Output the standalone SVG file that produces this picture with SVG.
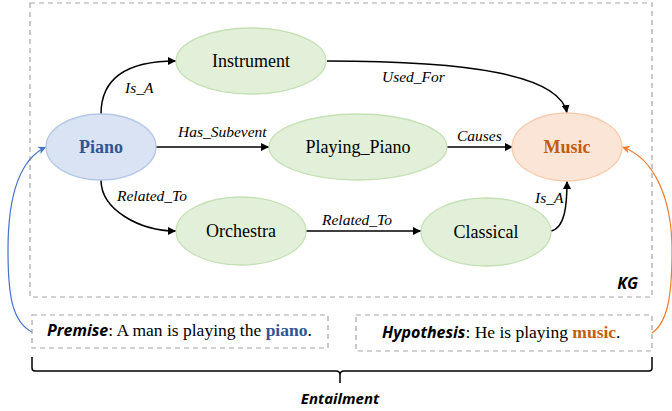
<svg xmlns="http://www.w3.org/2000/svg" width="672" height="411" viewBox="0 0 672 411">
<defs>
<marker id="ab" viewBox="0 0 10 10" refX="10" refY="5" markerWidth="8" markerHeight="8" markerUnits="userSpaceOnUse" orient="auto"><path d="M0,0 L10,5 L0,10 Z" fill="#000"/></marker>
<marker id="abl" viewBox="0 0 10 10" refX="10" refY="5" markerWidth="8" markerHeight="8" markerUnits="userSpaceOnUse" orient="auto"><path d="M0,0 L10,5 L0,10 L3,5 Z" fill="#4472c4"/></marker>
<marker id="aor" viewBox="0 0 10 10" refX="10" refY="5" markerWidth="8" markerHeight="8" markerUnits="userSpaceOnUse" orient="auto"><path d="M0,0 L10,5 L0,10 L3,5 Z" fill="#ed7d31"/></marker>
</defs>
<style>
.dash{fill:none;stroke:#a6a6a6;stroke-width:1.2;stroke-dasharray:5,4}
.green{fill:#e2f0d9;stroke:#c5e0b4;stroke-width:1.3}
.blue{fill:#dae3f3;stroke:#b4c7e7;stroke-width:1.3}
.orange{fill:#fbe5d6;stroke:#f8cbad;stroke-width:1.3}
.nt{font-family:"Liberation Serif","Times New Roman",serif;font-size:18px;fill:#000;text-anchor:middle}
.el{font-family:"Liberation Serif","Times New Roman",serif;font-size:15.5px;font-style:italic;fill:#000}
.edge{fill:none;stroke:#000;stroke-width:1.5;marker-end:url(#ab)}
.sent{font-family:"Liberation Serif","Times New Roman",serif;font-size:17.5px;fill:#000}
.sb{font-family:"Open Sans","Liberation Sans",sans-serif;font-weight:bold;font-style:italic}
</style>
<rect class="dash" x="30" y="3" width="622" height="294"/>
<text class="sb" x="638" y="289" font-size="16" text-anchor="end">KG</text>
<g id="connectors">
<path class="edge" d="M101,114 C101,80 125,61 176,61"/>
<path class="edge" d="M156,147 L269,147"/>
<path class="edge" d="M327,61 C470,61 560,75 567,113"/>
<path class="edge" d="M447,147 L513,147"/>
<path class="edge" d="M101,180 C101,210 140,231 176,231"/>
<path class="edge" d="M306,231 L421,231"/>
<path class="edge" d="M551,231 C565,228 567,205 567,181"/>
<text class="el" x="125" y="93">Is_A</text>
<text class="el" x="178" y="137">Has_Subevent</text>
<text class="el" x="382" y="82">Used_For</text>
<text class="el" x="457" y="141">Causes</text>
<text class="el" x="117" y="201">Related_To</text>
<text class="el" x="322" y="225">Related_To</text>
<text class="el" x="535" y="203">Is_A</text>
<path d="M32,332 C12,322 8,295 8,250 C8,200 18,160 46,147" fill="none" stroke="#4472c4" stroke-width="1.2" marker-end="url(#abl)"/>
<path d="M652,333 C668,322 672,295 672,250 C672,200 655,158 622,147" fill="none" stroke="#ed7d31" stroke-width="1.2" marker-end="url(#aor)"/>
</g>
<g id="piano"><ellipse class="blue" cx="101" cy="147" rx="55" ry="33"/><text class="nt" x="101" y="153" font-weight="bold" style="fill:#2f5597">Piano</text></g>
<g id="instrument"><ellipse class="green" cx="251" cy="61" rx="75" ry="33"/><text class="nt" x="251" y="67">Instrument</text></g>
<g id="playing_piano"><ellipse class="green" cx="358" cy="147" rx="89" ry="33"/><text class="nt" x="358" y="153">Playing_Piano</text></g>
<g id="music"><ellipse class="orange" cx="567" cy="147" rx="55" ry="34"/><text class="nt" x="567" y="153" font-weight="bold" style="fill:#c55a11">Music</text></g>
<g id="orchestra"><ellipse class="green" cx="241" cy="231" rx="65" ry="34"/><text class="nt" x="241" y="237">Orchestra</text></g>
<g id="classical"><ellipse class="green" cx="486" cy="232" rx="65" ry="34"/><text class="nt" x="486" y="238">Classical</text></g>
<g id="premise">
<rect class="dash" x="32" y="315" width="296" height="33"/>
<text class="sent" x="47" y="336"><tspan class="sb" font-size="16">Premise</tspan>: A man is playing the <tspan font-weight="bold" fill="#2f5597">piano</tspan>.</text>
</g>
<g id="hypothesis">
<rect class="dash" x="356" y="315" width="296" height="36"/>
<text class="sent" x="382" y="338"><tspan class="sb" font-size="16">Hypothesis</tspan>: He is playing <tspan font-weight="bold" fill="#c55a11">music</tspan>.</text>
</g>
<g id="entailment">
<path d="M32,357 L32,368 Q32,371 35,371 L336,371 Q340,371 340,375 L340,383 M340,375 Q340,371 344,371 L649,371 Q652,371 652,368 L652,357" fill="none" stroke="#000" stroke-width="1.5"/>
<text class="sb" x="340" y="404" font-size="15" text-anchor="middle">Entailment</text>
</g>
</svg>
